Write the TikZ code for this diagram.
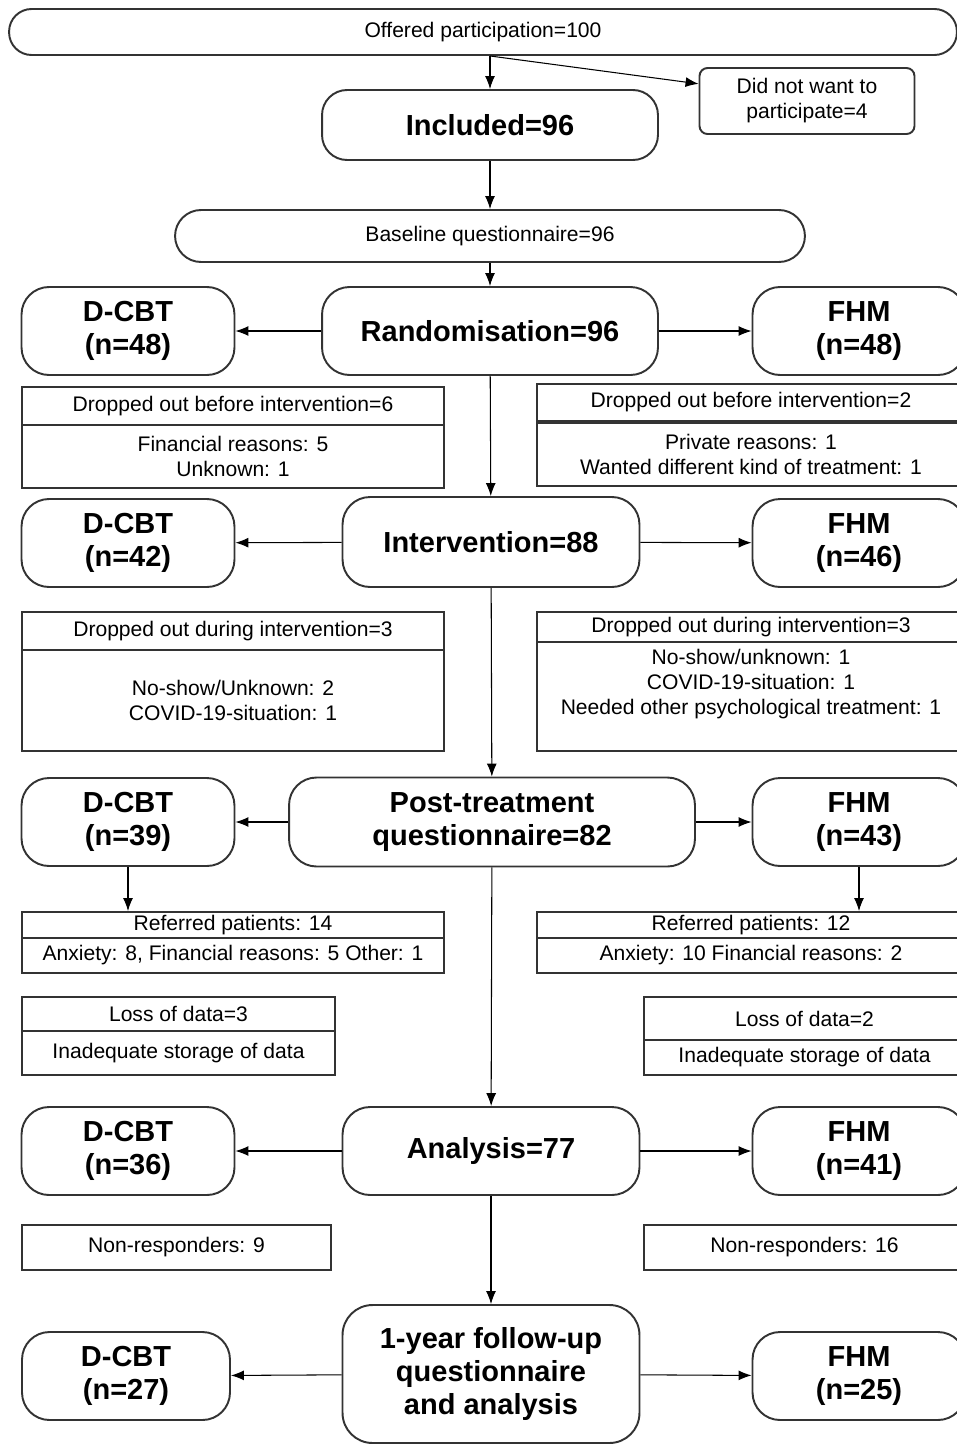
\documentclass[tikz,border=0pt]{standalone}
\usepackage{fontspec}
\setmainfont{Liberation Sans}
\usetikzlibrary{positioning,arrows.meta}
\definecolor{linegray}{HTML}{333333}

\begin{document}
\begin{tikzpicture}[x=0.02cm, y=-0.02cm,
    txt/.style={font=\fontsize{12}{14.2}\selectfont, align=center},
    big/.style={font=\bfseries\fontsize{16.5}{18.8}\selectfont, align=center},
    pill/.style={draw=linegray, line width=1.1pt, rounded corners=#1},
    grp/.style={pill=0.55cm, big, minimum width=4.26cm, minimum height=1.76cm},
    cell/.style={draw=linegray, line width=1.1pt, txt, inner sep=0pt, minimum width=#1},
    arr/.style={-{Latex[length=0.26cm,width=0.2cm]}, line width=0.6pt, black}]
    \useasboundingbox (0,0) rectangle (957,1444);

    % Offered and included
    \node[pill=0.45cm, txt, minimum width=18.96cm, minimum height=0.92cm] (offer) at (483,32) {Offered participation=100};
    \node[pill=0.16cm, txt, minimum width=4.3cm, minimum height=1.32cm] (nowant) at (807,101) {Did not want to\\participate=4};
    \node[pill=0.5cm, big, minimum width=6.72cm, minimum height=1.4cm] (incl) at (490,125) {Included=96};
    \node[pill=0.52cm, txt, minimum width=12.6cm, minimum height=1.04cm] (base) at (490,236) {Baseline questionnaire=96};

    % Randomisation
    \node[pill=0.55cm, big, minimum width=6.72cm, minimum height=1.76cm] (rand) at (490,331) {Randomisation=96};
    \node[grp] (dcbtA) at (128,331) {D-CBT\\(n=48)};
    \node[grp] (fhmA) at (859,331) {FHM\\(n=48)};

    % Dropped out before intervention
    \node[cell=8.44cm, minimum height=0.76cm] (dropLt) at (233,406) {Dropped out before intervention=6};
    \node[cell=8.44cm, minimum height=1.26cm, below=-1.1pt of dropLt] (dropLb) {Financial reasons: 5\\Unknown: 1};
    \node[cell=8.56cm, minimum height=0.74cm] (dropRt) at (751,402.5) {Dropped out before intervention=2};
    \node[cell=8.56cm, minimum height=1.26cm, below=0pt of dropRt] (dropRb) {Private reasons: 1\\Wanted different kind of treatment: 1};

    % Intervention
    \node[pill=0.55cm, big, minimum width=5.94cm, minimum height=1.8cm] (interv) at (491,542) {Intervention=88};
    \node[grp] (dcbtB) at (128,543) {D-CBT\\(n=42)};
    \node[grp] (fhmB) at (859,543) {FHM\\(n=46)};

    % Dropped out during intervention
    \node[cell=8.44cm, minimum height=0.76cm] (duringLt) at (233,631) {Dropped out during intervention=3};
    \node[cell=8.44cm, minimum height=2.02cm, below=-1.1pt of duringLt] (duringLb) {No-show/Unknown: 2\\COVID-19-situation: 1};
    \node[cell=8.56cm, minimum height=0.6cm] (duringRt) at (751,627) {Dropped out during intervention=3};
    \node[cell=8.56cm, minimum height=2.18cm, below=-1.1pt of duringRt] (duringRb) {};
    \node[txt, below=0pt of duringRt] (duringRtxt) {No-show/unknown: 1\\COVID-19-situation: 1\\Needed other psychological treatment: 1};

    % Post-treatment
    \node[pill=0.55cm, big, minimum width=8.12cm, minimum height=1.78cm] (post) at (492,822) {Post-treatment\\questionnaire=82};
    \node[grp] (dcbtC) at (128,822) {D-CBT\\(n=39)};
    \node[grp] (fhmC) at (859,822) {FHM\\(n=43)};

    % Referred patients
    \node[cell=8.44cm, minimum height=0.52cm] (refLt) at (233,925) {Referred patients: 14};
    \node[cell=8.44cm, minimum height=0.7cm, below=-1.1pt of refLt] (refLb) {Anxiety: 8, Financial reasons: 5 Other: 1};
    \node[cell=8.56cm, minimum height=0.52cm] (refRt) at (751,925) {Referred patients: 12};
    \node[cell=8.56cm, minimum height=0.7cm, below=-1.1pt of refRt] (refRb) {Anxiety: 10 Financial reasons: 2};

    % Loss of data
    \node[cell=6.26cm, minimum height=0.68cm] (lossLt) at (178.5,1014) {Loss of data=3};
    \node[cell=6.26cm, minimum height=0.88cm, below=-1.1pt of lossLt] (lossLb) {Inadequate storage of data};
    \node[cell=6.42cm, minimum height=0.86cm] (lossRt) at (804.5,1018.5) {Loss of data=2};
    \node[cell=6.42cm, minimum height=0.7cm, below=-1.1pt of lossRt] (lossRb) {Inadequate storage of data};

    % Analysis
    \node[pill=0.55cm, big, minimum width=5.94cm, minimum height=1.76cm] (anal) at (491,1151) {Analysis=77};
    \node[grp] (dcbtD) at (128,1151) {D-CBT\\(n=36)};
    \node[grp] (fhmD) at (859,1151) {FHM\\(n=41)};

    % Non-responders
    \node[cell=6.18cm, minimum height=0.9cm] (nonL) at (176.5,1247.5) {Non-responders: 9};
    \node[cell=6.42cm, minimum height=0.9cm] (nonR) at (804.5,1247.5) {Non-responders: 16};

    % Follow-up
    \node[pill=0.6cm, big, minimum width=5.94cm, minimum height=2.76cm] (follow) at (491,1374) {1-year follow-up\\questionnaire\\and analysis};
    \node[grp, minimum width=4.16cm] (dcbtE) at (126,1376) {D-CBT\\(n=27)};
    \node[grp] (fhmE) at (859,1376) {FHM\\(n=25)};

    % Arrows down the middle
    \coordinate (split) at (offer.south -| incl.north);
    \draw[arr] (split) -- (incl);
    \draw[arr] (split) -- (nowant.171);
    \draw[arr] (incl) -- (base);
    \draw[arr] (base) -- (rand);
    \draw[arr] (rand) -- (interv);
    \draw[arr] (interv) -- (post);
    \draw[arr] (post) -- (anal);
    \draw[arr] (anal) -- (follow);

    % Arrows to the groups
    \draw[arr] (rand) -- (dcbtA);
    \draw[arr] (rand) -- (fhmA);
    \draw[arr] (interv) -- (dcbtB);
    \draw[arr] (interv) -- (fhmB);
    \draw[arr] (post) -- (dcbtC);
    \draw[arr] (post) -- (fhmC);
    \draw[arr] (anal) -- (dcbtD);
    \draw[arr] (anal) -- (fhmD);
    \draw[arr] (follow) -- (dcbtE);
    \draw[arr] (follow) -- (fhmE);

    % Referred
    \draw[arr] (dcbtC.south) -- (dcbtC.south |- refLt.north);
    \draw[arr] (fhmC.south) -- (fhmC.south |- refRt.north);
\end{tikzpicture}
\end{document}
